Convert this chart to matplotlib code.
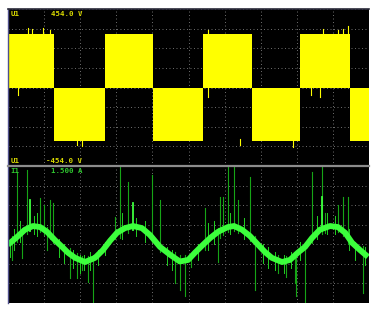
import matplotlib

matplotlib.use("Agg")
import matplotlib.pyplot as plt
import numpy as np

# time axis in screen divisions (10 across)
# U1: square-ish inverter voltage, blocks between switching instants
switch_t = [0.0, 1.27, 2.69, 4.03, 5.40, 6.76, 8.09, 9.47, 10.0]
block_v = [310, -310, 310, -310, 310, -310, 310, -310]
v_spikes = [  # (t, from V, to V)
    (0.55, 300, 344), (0.66, 300, 338), (0.97, 300, 344), (1.16, 300, 332),
    (5.54, 300, 330), (8.73, 300, 338), (9.14, 300, 335), (9.28, 300, 340),
    (9.42, 300, 356),
    (0.28, 10, -44), (5.54, 10, -55), (8.39, 10, -44), (8.64, 10, -55),
    (1.91, -300, -333), (2.05, -300, -340), (7.89, -300, -345), (6.43, -300, -330),
]

# I1: current trace
t_trace = [0.00, 0.25, 0.47, 0.69, 0.89, 1.08, 1.30, 1.50, 1.66, 1.86, 2.13,
           2.41, 2.63, 2.83, 3.02, 3.24, 3.46, 3.71, 3.93, 4.21, 4.49, 4.76,
           4.99, 5.18, 5.40, 5.60, 5.82, 6.09, 6.26, 6.48, 6.70, 6.93, 7.12,
           7.31, 7.59, 7.81, 8.03, 8.23, 8.42, 8.64, 8.92, 9.14, 9.34, 9.53,
           9.75, 9.97]
i_trace = [-0.01, 0.14, 0.28, 0.35, 0.33, 0.24, 0.08, -0.05, -0.16, -0.26, -0.34,
           -0.26, -0.11, 0.07, 0.22, 0.31, 0.35, 0.31, 0.18, -0.05, -0.20, -0.33,
           -0.30, -0.16, -0.01, 0.12, 0.24, 0.33, 0.35, 0.28, 0.16, -0.01, -0.15,
           -0.26, -0.34, -0.30, -0.16, -0.05, 0.12, 0.28, 0.35, 0.33, 0.22, 0.03,
           -0.11, -0.24]

# switching spikes on the current, (t, low A, high A)
i_spikes = [
    (0.25, 0.05, 1.39), (0.53, 0.20, 1.42), (0.89, 0.23, 0.89), (1.00, 0.17, 0.75),
    (1.16, 0.10, 0.85), (1.25, 0.02, 0.79), (3.10, 0.12, 1.50), (3.32, 0.22, 1.19),
    (3.99, 0.05, 1.33), (2.96, 0.10, 0.52), (4.21, -0.15, 0.85),
    (0.11, -0.30, 0.15), (0.39, -0.26, 0.32), (1.08, -0.11, 0.34), (1.72, -0.64, -0.08),
    (1.91, -0.64, -0.17), (2.22, -0.72, -0.23), (2.35, -1.10, -0.20), (2.05, -0.49, -0.22),
    (4.63, -0.74, -0.15), (4.76, -0.87, -0.20), (4.90, -1.00, -0.20),
    (5.46, -0.10, 0.70), (5.87, 0.13, 0.91), (5.96, 0.18, 0.91), (6.09, 0.23, 1.50),
    (6.26, 0.25, 1.50), (6.37, 0.22, 0.85), (6.70, 0.06, 1.29), (8.42, 0.02, 1.39),
    (8.70, 0.20, 1.50), (8.78, 0.22, 0.60), (9.14, 0.23, 0.75), (9.28, 0.15, 0.91),
    (9.42, 0.00, 0.91),
    (5.07, -0.43, -0.18), (5.82, -0.34, 0.32), (6.84, -0.87, 0.15), (7.95, -0.74, -0.17),
    (7.98, -1.00, -0.15), (8.23, -1.10, 0.00), (7.70, -0.62, -0.22), (9.83, -0.93, -0.03),
    (7.48, -0.55, -0.20),
]
# bright spikes riding on the trace
i_bright = [(0.61, 0.25, 0.85), (3.46, 0.28, 0.79), (8.70, 0.25, 0.91)]
i_fuzz = [
    (0.05, -0.25, 0.10), (0.18, -0.10, 0.30), (0.33, 0.05, 0.45), (0.72, 0.20, 0.55),
    (0.80, 0.15, 0.60), (1.40, -0.25, 0.10), (1.55, -0.35, 0.00), (1.80, -0.45, -0.10),
    (2.00, -0.55, -0.20), (2.10, -0.50, -0.20), (2.28, -0.50, -0.15), (2.50, -0.40, -0.10),
    (2.70, -0.20, 0.05), (3.15, 0.10, 0.60), (3.55, 0.15, 0.50), (3.80, 0.05, 0.45),
    (4.40, -0.40, -0.05), (4.55, -0.50, -0.10), (5.25, -0.30, 0.00), (5.55, -0.10, 0.40),
    (5.70, 0.00, 0.45), (6.15, 0.20, 0.60), (6.55, 0.10, 0.50), (7.05, -0.35, 0.00),
    (7.20, -0.45, -0.05), (7.40, -0.50, -0.15), (7.65, -0.55, -0.20), (7.85, -0.45, -0.15),
    (8.10, -0.30, 0.05), (8.55, 0.10, 0.55), (8.85, 0.20, 0.60), (9.05, 0.20, 0.55),
    (9.45, -0.10, 0.30), (9.60, -0.30, 0.05), (9.90, -0.40, -0.05),
]

v_top = 454.0
v_div = 113.5
i_top = 1.5
i_div = 0.375

YELLOW = "#ffff00"
GREEN = "#3cff3c"
DARK_GREEN = "#16a516"
GRID = "#6e6e6e"

fig = plt.figure(figsize=(3.76, 3.09), dpi=100)
ax_v = fig.add_axes([8 / 376, 143 / 309, 361 / 376, 157 / 309])
ax_i = fig.add_axes([8 / 376, 6 / 309, 361 / 376, 137 / 309])

for ax in (ax_v, ax_i):
    ax.set_facecolor("black")
    ax.set_xlim(0, 10)
    ax.set_xticks(np.arange(0, 11))
    ax.tick_params(length=0, labelbottom=False, labelleft=False)
    ax.grid(True, color=GRID, lw=0.7, ls=(0, (1.0, 2.6)))
    ax.set_axisbelow(True)
    for side in ("right", "bottom"):
        ax.spines[side].set_visible(False)
    ax.spines["left"].set_color("#50508c")
    ax.spines["left"].set_linewidth(1.0)

ax_v.set_ylim(-v_top, v_top)
ax_v.set_yticks(np.arange(-v_top, v_top + 1, v_div))
ax_v.spines["top"].set_color("#2a2a3a")
ax_v.spines["top"].set_linewidth(1.2)

ax_i.set_ylim(i_top - 7 * i_div, i_top)
ax_i.set_yticks(i_top - i_div * np.arange(8))
ax_i.spines["top"].set_color("#8c8c8c")
ax_i.spines["top"].set_linewidth(1.6)

# voltage blocks
for k, v in enumerate(block_v):
    ax_v.fill_between([switch_t[k], switch_t[k + 1]], 0, v, color=YELLOW, lw=0)
for t, a, b in v_spikes:
    ax_v.plot([t, t], [a, b], color=YELLOW, lw=0.8)

# current
for t, lo, hi in i_spikes:
    ax_i.plot([t, t], [lo, hi], color=DARK_GREEN, lw=0.8)
for t, lo, hi in i_fuzz:
    ax_i.plot([t, t], [lo, hi], color="#22d022", lw=0.7)
ax_i.plot(t_trace, i_trace, color=GREEN, lw=4.2, solid_capstyle="butt")
for t, lo, hi in i_bright:
    ax_i.plot([t, t], [lo, hi], color=GREEN, lw=1.3)

lab = dict(family="DejaVu Sans Mono", fontsize=5.3, fontweight="bold", va="center")
ax_v.text(0.006, 0.968, "U1", color="#d8d800", transform=ax_v.transAxes, **lab)
ax_v.text(0.205, 0.968, "454.0 V", color="#d8d800", ha="right", transform=ax_v.transAxes, **lab)
ax_v.text(0.006, 0.032, "U1", color="#d8d800", transform=ax_v.transAxes, **lab)
ax_v.text(0.205, 0.032, "-454.0 V", color="#d8d800", ha="right", transform=ax_v.transAxes, **lab)
ax_i.text(0.006, 0.963, "I1", color="#2fc82f", transform=ax_i.transAxes, **lab)
ax_i.text(0.205, 0.963, "1.500 A", color="#2fc82f", ha="right", transform=ax_i.transAxes, **lab)

fig.savefig("out.png", dpi=100, facecolor="white")
